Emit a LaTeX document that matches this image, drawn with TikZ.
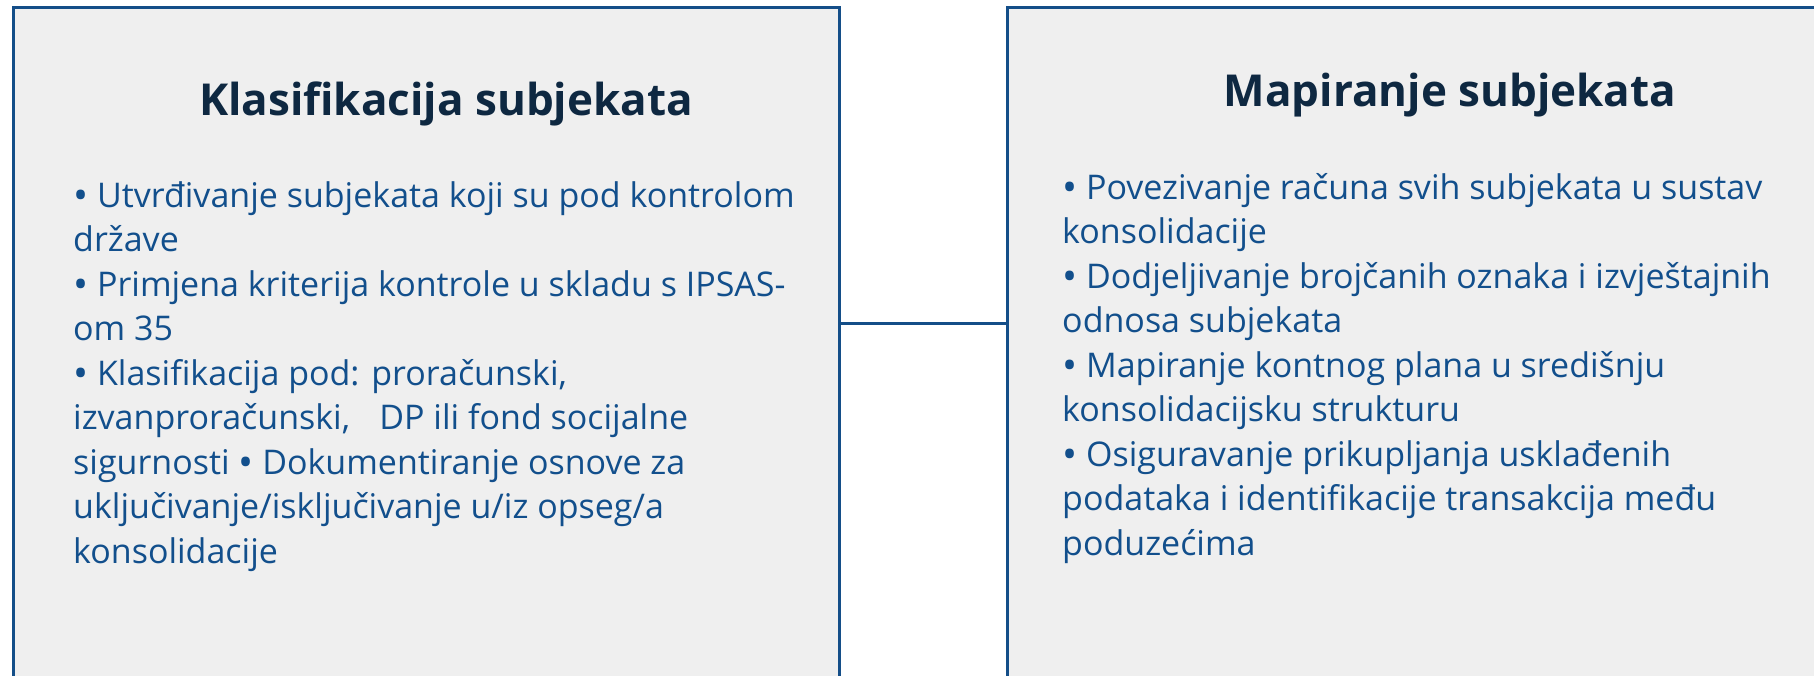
\documentclass[tikz,border=0pt]{standalone}
\usepackage{fontspec}
\setmainfont{Open Sans}
\definecolor{boxfill}{HTML}{EFEFEF}
\definecolor{boxline}{HTML}{144E88}
\definecolor{titlecol}{HTML}{0E2841}
\definecolor{bodycol}{HTML}{124F8C}
\newcommand{\bul}{\raisebox{-2.5pt}{\fontsize{40}{44}\selectfont •}}
\tikzset{
  panel/.style={draw=boxline, line width=2.5pt, fill=boxfill, inner sep=0pt, anchor=north west},
  paneltitle/.style={text=titlecol, font=\fontsize{44}{52}\selectfont\bfseries, inner sep=0pt},
  panelbody/.style={text=bodycol, font=\fontsize{34}{44.5}\selectfont, align=left, inner sep=0pt, anchor=north west},
  link/.style={draw=boxline, line width=3pt}
}
\begin{document}
\begin{tikzpicture}[x=1pt,y=-1pt]
\useasboundingbox (0,0) rectangle (1814,675);
\fill[white] (0,0) rectangle (1814,675);
\clip (0,0) rectangle (1814,675);
\node[panel, minimum width=826pt, minimum height=740pt] (L) at (12,6) {};
\node[panel, minimum width=860pt, minimum height=740pt] (R) at (1006,6) {};
\coordinate (mid) at (0,323);
\draw[link] (L.east |- mid) -- (R.west |- mid);
\node[paneltitle] (Lt) at (446,104) {Klasifikacija subjekata};
\node[paneltitle] (Rt) at (1450,95) {Mapiranje subjekata};
\node[panelbody] (Lb) at (73,181) {\bul{} Utvrđivanje subjekata koji su pod kontrolom\\
države\\
\bul{} Primjena kriterija kontrole u skladu s IPSAS-\\
om 35\\
\bul{} Klasifikacija pod: proračunski,\\
izvanproračunski,\hspace{0.6em} DP ili fond socijalne\\
sigurnosti \bul{} Dokumentiranje osnove za\\
uključivanje/isključivanje u/iz opseg/a\\
konsolidacije};
\node[panelbody] (Rb) at (1062,173) {\bul{} Povezivanje računa svih subjekata u sustav\\
konsolidacije\\
\bul{} Dodjeljivanje brojčanih oznaka i izvještajnih\\
odnosa subjekata\\
\bul{} Mapiranje kontnog plana u središnju\\
konsolidacijsku strukturu\\
\bul{} Osiguravanje prikupljanja usklađenih\\
podataka i identifikacije transakcija među\\
poduzećima};
\end{tikzpicture}
\end{document}
